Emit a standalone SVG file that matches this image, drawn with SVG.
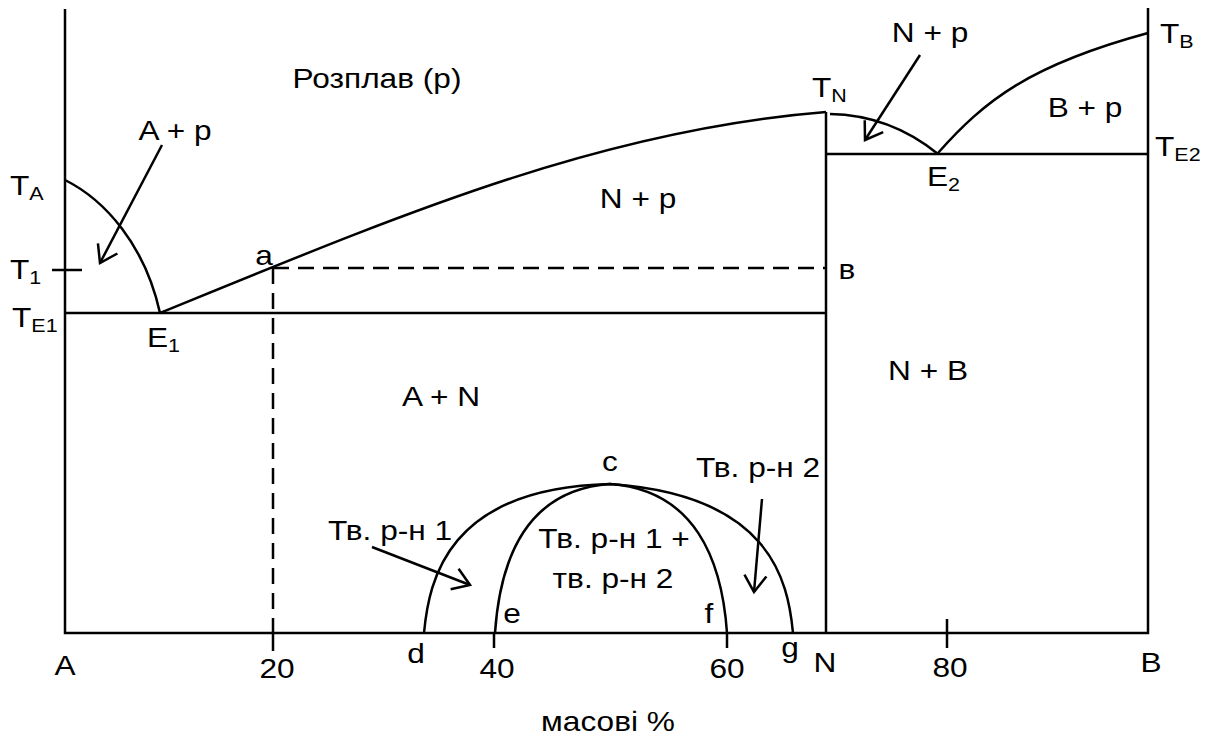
<svg xmlns="http://www.w3.org/2000/svg" width="1215" height="737" viewBox="0 0 1215 737">
<defs>
<style>
.ln{fill:none;stroke:#000;stroke-width:2.5}
.dash{fill:none;stroke:#000;stroke-width:2.5;stroke-dasharray:16 9}
.ar{fill:none;stroke:#000;stroke-width:2.5;marker-end:url(#v)}
text{font-family:"Liberation Sans",Arial,sans-serif;font-size:28px;fill:#000}
.sub{font-size:19px}
.m{text-anchor:middle}
</style>
<marker id="v" markerUnits="userSpaceOnUse" markerWidth="40" markerHeight="40" refX="0" refY="0" viewBox="-20 -20 40 40" orient="auto" overflow="visible">
<path d="M-16.5,-11 L0,0 L-16.5,11" fill="none" stroke="#000" stroke-width="2.5"/>
</marker>
</defs>
<rect width="1215" height="737" fill="#fff"/>
<g id="axes">
<path class="ln" d="M65,9 V633 H1148 V8"/>
<path class="ln" d="M826,112 V633"/>
<path class="ln" d="M273,633 V651 M494,633 V648 M727,633 V648 M947,619 V648 M52,270 H82"/>
</g>
<g id="lines">
<path class="ln" d="M65,313 H826"/>
<path class="ln" d="M826,154 H1148"/>
<path class="ln" d="M65,180 C105,200 145,245 160,313"/>
<path class="ln" d="M160,313 C400,215 600,130 826,112"/>
<path class="ln" d="M830,114 Q890,115 938,154"/>
<path class="ln" d="M938,153 C985,100 1030,65 1148,33"/>
<path class="dash" d="M273,268 H826 M273,268 V633"/>
<path class="ln" d="M424,633 C429,580 447,488 610,484 C770,495 788,580 793,633"/>
<path class="ln" d="M495,633 C500,560 525,490 610,484 C695,490 722,560 727,633"/>
</g>
<g id="connectors">
<path class="ar" d="M162,145 L100,263"/>
<path class="ar" d="M920,55 L865,140"/>
<path class="ar" d="M372,547 L470,585"/>
<path class="ar" d="M762,499 L754,592"/>
</g>
<g id="labels">
<text class="m" transform="translate(377,88) scale(1.13,1)">Розплав (р)</text>
<text class="m" transform="translate(175,140) scale(1.13,1)">A + p</text>
<text class="m" transform="translate(638,208) scale(1.13,1)">N + p</text>
<text class="m" transform="translate(930,42) scale(1.13,1)">N + p</text>
<text class="m" transform="translate(1085,117) scale(1.13,1)">B + p</text>
<text class="m" transform="translate(441,406) scale(1.13,1)">A + N</text>
<text class="m" transform="translate(928,380) scale(1.13,1)">N + B</text>
<text transform="translate(10,195) scale(1.13,1)">T<tspan class="sub" dy="5">A</tspan></text>
<text transform="translate(10,279) scale(1.13,1)">T<tspan class="sub" dy="5">1</tspan></text>
<text transform="translate(12,327) scale(1.13,1)">T<tspan class="sub" dy="5">E1</tspan></text>
<text transform="translate(147,347) scale(1.13,1)">E<tspan class="sub" dy="5">1</tspan></text>
<text transform="translate(812,97) scale(1.13,1)">T<tspan class="sub" dy="5">N</tspan></text>
<text transform="translate(1160,43) scale(1.13,1)">T<tspan class="sub" dy="5">B</tspan></text>
<text transform="translate(1155,156) scale(1.13,1)">T<tspan class="sub" dy="5">E2</tspan></text>
<text transform="translate(927,186) scale(1.13,1)">E<tspan class="sub" dy="5">2</tspan></text>
<text class="m" transform="translate(264,265) scale(1.13,1)">a</text>
<text class="m" transform="translate(847,279) scale(1.13,1)">в</text>
<text class="m" transform="translate(610,471) scale(1.13,1)">c</text>
<text class="m" transform="translate(758,477) scale(1.13,1)">Тв. р-н 2</text>
<text class="m" transform="translate(390,540) scale(1.13,1)">Тв. р-н 1</text>
<text class="m" transform="translate(614,548) scale(1.13,1)">Тв. р-н 1 +</text>
<text class="m" transform="translate(613,588) scale(1.13,1)">тв. р-н 2</text>
<text class="m" transform="translate(512,623) scale(1.13,1)">e</text>
<text class="m" transform="translate(709,623) scale(1.13,1)">f</text>
<text class="m" transform="translate(416,663) scale(1.13,1)">d</text>
<text class="m" transform="translate(790,657) scale(1.13,1)">g</text>
<text class="m" transform="translate(65,675) scale(1.13,1)">A</text>
<text class="m" transform="translate(277,678) scale(1.13,1)">20</text>
<text class="m" transform="translate(497,678) scale(1.13,1)">40</text>
<text class="m" transform="translate(727,678) scale(1.13,1)">60</text>
<text class="m" transform="translate(825,672) scale(1.13,1)">N</text>
<text class="m" transform="translate(950,677) scale(1.13,1)">80</text>
<text class="m" transform="translate(1151,672) scale(1.13,1)">B</text>
<text class="m" transform="translate(608,731) scale(1.13,1)">масові %</text>
</g>
</svg>
